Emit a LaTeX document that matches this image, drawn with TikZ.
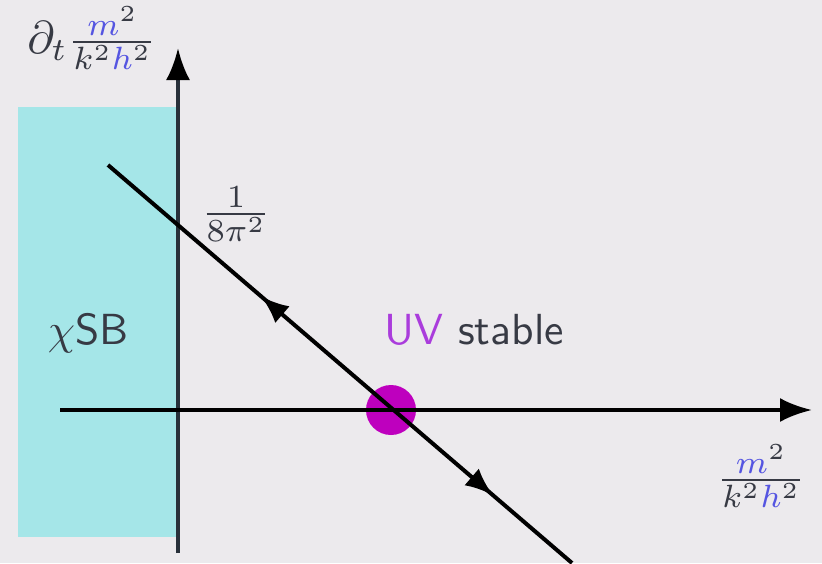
\documentclass[tikz,border=0pt]{standalone}
\usepackage{amsmath}
\usetikzlibrary{arrows.meta,decorations.markings}
\definecolor{bg}{RGB}{236,234,237}
\definecolor{cyanbox}{RGB}{165,230,232}
\definecolor{mblue}{RGB}{85,85,225}
\definecolor{uvpurple}{RGB}{170,60,220}
\definecolor{dotmag}{RGB}{190,0,190}
\definecolor{txt}{RGB}{55,58,68}
\definecolor{vaxis}{RGB}{40,48,58}
\tikzset{
  axis/.style={line width=4pt, -{Latex[length=32pt,width=24pt,color=black]}},
  flowline/.style={line width=4pt, postaction={decorate}, decoration={markings,
     mark=at position 0.33 with {\arrowreversed{Latex[length=28pt,width=22pt]}},
     mark=at position 0.83 with {\arrow{Latex[length=28pt,width=22pt]}}}},
  lbl/.style={inner sep=0pt, text=txt, scale=4.35},
  mathlbl/.style={inner sep=0pt, text=txt, scale=4.6}
}
\begin{document}
\begin{tikzpicture}[x=1pt,y=-1pt]
\useasboundingbox (0,0) rectangle (822,563);
\fill[bg] (0,0) rectangle (822,563);
\fill[cyanbox] (18,107) rectangle (176,537);
\coordinate (vb) at (178,553);
\coordinate (vt) at (178,48);
\coordinate (hl) at (60,410);
\coordinate (hr) at (812,410);
\coordinate (d1) at (108,165);
\coordinate (d2) at (572,563);
\fill[dotmag] (391,410) circle (25);
\node[draw=none] (fp) at (391,410) {};
\draw[axis, draw=vaxis] (vb) -- (vt);
\draw[axis] (hl) -- (hr);
\draw[flowline] (d1) -- (d2);
\node[mathlbl] (ylab) at (92,38) {$\partial_t\tfrac{\textcolor{mblue}{m}^2}{k^2\textcolor{mblue}{h}^2}$};
\node[mathlbl] (xlab) at (761,476) {$\tfrac{\textcolor{mblue}{m}^2}{k^2\textcolor{mblue}{h}^2}$};
\node[mathlbl] (icpt) at (236,214) {$\tfrac{1}{8\pi^2}$};
\node[lbl, anchor=base west] (csb) at (47,344) {$\chi$\textsf{SB}};
\node[lbl, anchor=base west] (uv) at (384,344) {\sffamily\textcolor{uvpurple}{UV} stable};
\end{tikzpicture}
\end{document}
